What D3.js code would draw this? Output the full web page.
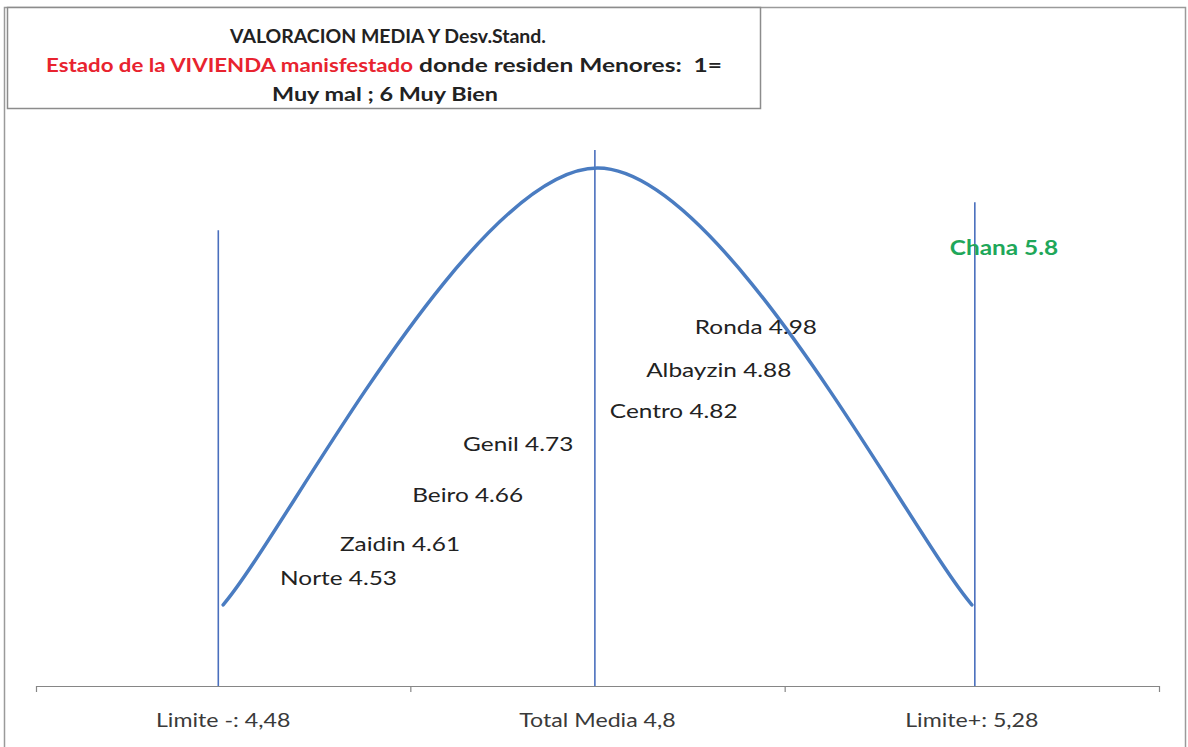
<!DOCTYPE html>
<html>
<head>
<meta charset="utf-8">
<script src="https://cdn.jsdelivr.net/npm/d3@7"></script>
<style>
  html, body { margin: 0; padding: 0; background: #fff; }
  svg { display: block; }
</style>
</head>
<body>
<svg id="chart" width="1188" height="747"></svg>
<script>
// ---------- DATA ----------
const categories = ["Limite -: 4,48", "Total Media 4,8", "Limite+: 5,28"];

// Smoothed bell line: one value per category on a hidden 0-10 value axis
const curveValues = [1.45, 9.25, 1.45];

// Vertical reference lines: position along category axis (0 = first category) and top value
const vlineU = [-0.013, 0.993, 2.008];
const vlineH = [8.14, 9.57, 8.64];

// District annotations
const districtNames  = ["Norte", "Zaidin", "Beiro", "Genil", "Centro", "Albayzin", "Ronda", "Chana"];
const districtValues = ["4.53", "4.61", "4.66", "4.73", "4.82", "4.88", "4.98", "5.8"];
const districtU = [0.152, 0.312, 0.505, 0.641, 1.033, 1.13, 1.26, 1.941];
const districtH = [1.80, 2.41, 3.29, 4.20, 4.79, 5.52, 6.29, 7.70];
const districtHighlight = [false, false, false, false, false, false, false, true];

const titleLine1 = "VALORACION MEDIA Y Desv.Stand.";
const titleLine2Red = "Estado de la VIVIENDA manisfestado";
const titleLine2Black = "donde residen Menores:  1=";
const titleLine3 = "Muy mal ; 6 Muy Bien";

// ---------- DRAW ----------
const svg = d3.select("#chart");
const FONT = "Lato, 'Open Sans', sans-serif";
const STRETCH = 1.22;

const left = 36, right = 1159, baseY = 686, topY = 126;

const xBand = d3.scaleBand().domain(categories).range([left, right]);
const u = d3.scaleLinear().domain([-0.5, 2.5]).range([left, right]);
const y = d3.scaleLinear().domain([0, 10]).range([baseY, topY]);

// Excel-style smoothing curve (Catmull-Rom bezier, endpoint tangents toward neighbour)
function excelSmooth(context) {
  let pts;
  return {
    areaStart() {}, areaEnd() {},
    lineStart() { pts = []; },
    point(px, py) { pts.push([+px, +py]); },
    lineEnd() {
      const n = pts.length;
      if (!n) return;
      context.moveTo(pts[0][0], pts[0][1]);
      for (let i = 0; i < n - 1; i++) {
        const p0 = pts[Math.max(i - 1, 0)], p1 = pts[i], p2 = pts[i + 1], p3 = pts[Math.min(i + 2, n - 1)];
        context.bezierCurveTo(
          p1[0] + (p2[0] - p0[0]) / 6, p1[1] + (p2[1] - p0[1]) / 6,
          p2[0] - (p3[0] - p1[0]) / 6, p2[1] - (p3[1] - p1[1]) / 6,
          p2[0], p2[1]);
      }
    }
  };
}

// outer chart border
svg.append("rect")
  .attr("x", 4.5).attr("y", 7.5).attr("width", 1181).attr("height", 760)
  .attr("fill", "none").attr("stroke", "#9a9a9a").attr("stroke-width", 1.5);

// axis with boundary ticks
const tickAxis = d3.axisBottom(u).tickValues([-0.5, 0.5, 1.5, 2.5]).tickSize(6).tickFormat("").tickSizeOuter(0);
const gTicks = svg.append("g").attr("transform", `translate(0,${baseY})`).call(tickAxis);
gTicks.selectAll("path, line").attr("stroke", "#868686").attr("stroke-width", 1.2);

// category labels
const labAxis = d3.axisBottom(xBand).tickSize(0).tickPadding(28);
const gLab = svg.append("g").attr("transform", `translate(0,${baseY})`).call(labAxis);
gLab.select(".domain").remove();
gLab.selectAll("text")
  .attr("font-family", FONT).attr("font-size", 19).attr("fill", "#3a3a3a")
  .attr("transform", `scale(${STRETCH},1)`);

// vertical lines
svg.append("g").selectAll("line").data(vlineU).join("line")
  .attr("x1", d => u(d)).attr("x2", d => u(d))
  .attr("y1", (d, i) => y(vlineH[i])).attr("y2", y(0))
  .attr("stroke", "#4a6fbd").attr("stroke-width", 1.6);

// bell curve
svg.append("path")
  .datum(curveValues)
  .attr("fill", "none")
  .attr("stroke", "#4a7cc1")
  .attr("stroke-width", 3.5)
  .attr("stroke-linecap", "round")
  .attr("d", d3.line().x((d, i) => u(i)).y(d => y(d)).curve(excelSmooth));

// district labels
svg.append("g").selectAll("text").data(districtNames).join("text")
  .attr("transform", (d, i) => `translate(${u(districtU[i])},${y(districtH[i])}) scale(${STRETCH},1)`)
  .attr("font-family", FONT)
  .attr("font-size", 20)
  .attr("font-weight", (d, i) => districtHighlight[i] ? "bold" : "normal")
  .attr("fill", (d, i) => districtHighlight[i] ? "#1fa75a" : "#222")
  .text((d, i) => d + " " + districtValues[i]);

// title box
svg.append("rect")
  .attr("x", 7.5).attr("y", 7.5).attr("width", 753).attr("height", 101)
  .attr("fill", "#fff").attr("stroke", "#8c8c8c").attr("stroke-width", 1.5);

const t = svg.append("g").attr("font-family", FONT).attr("font-weight", "bold").attr("font-size", 18);
t.append("text").attr("x", 230).attr("y", 43).attr("fill", "#222")
  .attr("textLength", 316).attr("lengthAdjust", "spacingAndGlyphs").text(titleLine1);
t.append("text").attr("x", 46).attr("y", 72).attr("fill", "#e8232f")
  .attr("textLength", 367).attr("lengthAdjust", "spacingAndGlyphs").text(titleLine2Red);
t.append("text").attr("x", 419).attr("y", 72).attr("fill", "#222").attr("xml:space", "preserve")
  .attr("textLength", 303).attr("lengthAdjust", "spacingAndGlyphs").text(titleLine2Black);
t.append("text").attr("x", 272).attr("y", 101).attr("fill", "#222")
  .attr("textLength", 226).attr("lengthAdjust", "spacingAndGlyphs").text(titleLine3);
</script>
</body>
</html>
